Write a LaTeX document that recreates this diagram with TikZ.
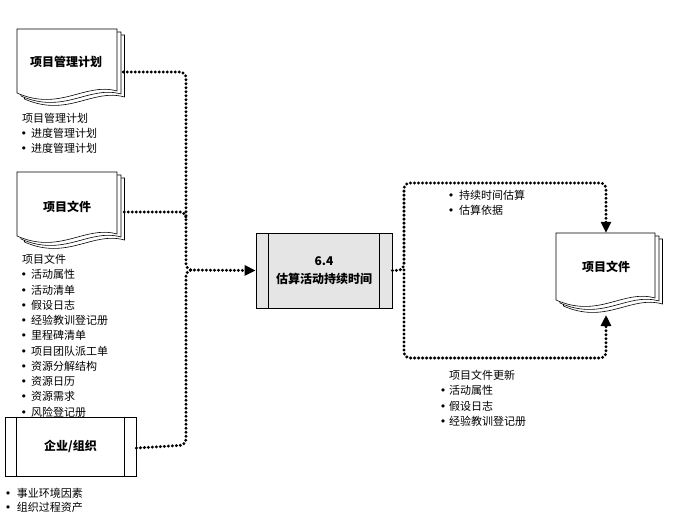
\documentclass[tikz,border=0pt]{standalone}
\usepackage{fontspec}
\setmainfont{Noto Sans CJK SC}
\newfontfamily\sym{DejaVu Sans}
\usetikzlibrary{arrows.meta,calc}
\newcommand\bul[1]{\makebox[#1][l]{\sym •}}
\newcommand\pagepath[4]{(#1,#2) -- (#3,#2) -- (#3,{#4-2}) .. controls ({#3-32},{#4-11}) and ({#1+43},{#4+19}) .. (#1,#4) -- cycle}
\newcommand\docstack[4]{%
  \begin{scope}[shift={(7.5,6)}]\draw[page] \pagepath{#1}{#2}{#3}{#4};\end{scope}
  \begin{scope}[shift={(4,3)}]\draw[page] \pagepath{#1}{#2}{#3}{#4};\end{scope}
  \draw[page] \pagepath{#1}{#2}{#3}{#4};}
\begin{document}
\begin{tikzpicture}[x=1pt,y=-1pt,
  page/.style={draw=black, line width=0.6pt, fill=white},
  dotline/.style={line width=3.3pt, line cap=round, dash pattern=on 0pt off 4pt, rounded corners=6pt},
  tip/.style={-{Triangle[length=11pt,width=10pt]}},
  lbl/.style={font=\bfseries\fontsize{12}{18}\selectfont, align=center, inner sep=0pt},
  lst/.style={font=\fontsize{11}{15.25}\selectfont, align=left, anchor=north west, inner sep=0pt}]
\fill[white] (0,0) rectangle (680,530);
\useasboundingbox (0,0) rectangle (680,530);

% documents
\docstack{17}{29}{117}{93}
\node[lbl, minimum width=100pt, minimum height=64pt] (pm) at (66,62) {项目管理计划};
\docstack{17}{172}{117}{236}
\node[lbl, minimum width=100pt, minimum height=64pt] (pf) at (67,207) {项目文件};
\docstack{556}{233}{655}{300}
\node[lbl, minimum width=99pt, minimum height=67pt] (po) at (606,266.5) {项目文件};
\coordinate (pobot) at (606,315);

% enterprise box
\node[draw, line width=0.8pt, fill=white, minimum width=131pt, minimum height=59pt, lbl] (ent) at (70.5,446.5) {企业/组织};
\draw[line width=0.8pt] ([xshift=12pt]ent.north west) -- ([xshift=12pt]ent.south west);
\draw[line width=0.8pt] ([xshift=-12pt]ent.north east) -- ([xshift=-12pt]ent.south east);

% process box
\node[draw, line width=0.8pt, fill=gray!20, minimum width=136pt, minimum height=75pt, lbl] (proc) at (324,270.5) {6.4\\估算活动持续时间};
\draw[line width=0.8pt] ([xshift=13pt]proc.north west) -- ([xshift=13pt]proc.south west);
\draw[line width=0.8pt] ([xshift=-13pt]proc.north east) -- ([xshift=-13pt]proc.south east);

% input connectors
\coordinate (c1) at (186,72);
\coordinate (c2) at (186,212);
\coordinate (c3) at (186,445);
\coordinate (jin) at (186,270);
\draw[dotline, tip] ([xshift=7pt,yshift=-10pt]pm.east) -- (c1) -- (jin) -- (proc.west);
\draw[dotline] ([xshift=7pt,yshift=-5pt]pf.east) -- (c2) -- ($(c2)+(0,7)$);
\draw[dotline] ([yshift=-1.5pt]ent.east) -- (c3) -- (jin) -- ($(jin)+(6,0)$);

% output connectors
\coordinate (jout) at (404,270);
\coordinate (o1) at (404,183);
\coordinate (o2) at (606,183);
\coordinate (o3) at (404,358);
\coordinate (o4) at (606,358);
\draw[dotline, tip] (proc.east) -- (jout) -- (o1) -- (o2) -- (po.north);
\draw[dotline, tip] (jout) -- (o3) -- (o4) -- (pobot);

% lists
\node[lst] (l1) at (20.5,113) {\hspace*{1.5pt}项目管理计划\\
\bul{10.5pt}进度管理计划\\
\bul{10.5pt}进度管理计划};
\node[lst] (l2) at (20.5,254) {\hspace*{1.5pt}项目文件\\
\bul{10.5pt}活动属性\\
\bul{10.5pt}活动清单\\
\bul{10.5pt}假设日志\\
\bul{10.5pt}经验教训登记册\\
\bul{10.5pt}里程碑清单\\
\bul{10.5pt}项目团队派工单\\
\bul{10.5pt}资源分解结构\\
\bul{10.5pt}资源日历\\
\bul{10.5pt}资源需求\\
\bul{10.5pt}风险登记册};
\node[lst, font=\fontsize{11}{14}\selectfont] (l3) at (4.75,488) {\bul{12pt}事业环境因素\\
\bul{12pt}组织过程资产};
\node[lst] (l4) at (447.75,190) {\bul{11.25pt}持续时间估算\\
\bul{11.25pt}估算依据};
\node[lst] (l5) at (439.75,370) {\hspace*{9.25pt}项目文件更新\\
\bul{9.25pt}活动属性\\
\bul{9.25pt}假设日志\\
\bul{9.25pt}经验教训登记册};
\end{tikzpicture}
\end{document}
